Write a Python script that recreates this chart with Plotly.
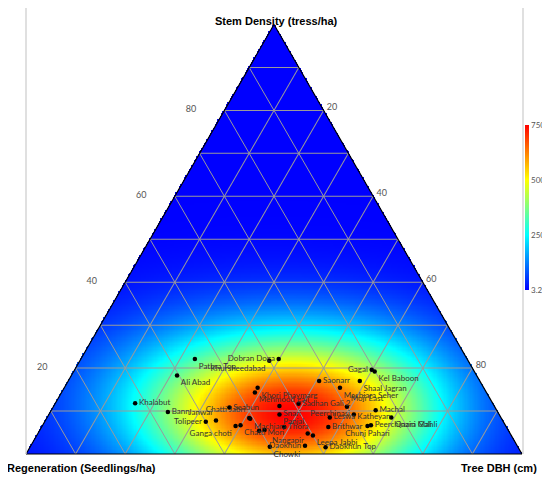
import numpy as np
import plotly.graph_objects as go

# sites and their ternary composition (percent)
sites = ['Pathra Top', 'Dobran Doga', 'Khursheedabad', 'Ali Abad', 'Khalabut', 'Bann',
         'Tolipeer', 'Janwai', 'Chatti Jabri', 'Seabun', 'Machiara Thora', 'Ganga choti',
         'Chatti Mori', '', '', '', 'Khori Phaymarg', 'Mehmood gali', 'Sadhan Gali 2',
         'Snari', 'Panjal', 'Peerchinasi', 'Leswa Katheyan', 'Moji East', 'Saonarr',
         'Shaal Jagran', 'Machiara Seher', 'Gagal', 'Kel Baboon', 'Machal', 'Qaziri Mahli',
         'Peerchinara Gali', 'Chunj Pahari', 'Brithwar', 'Nangapir', 'Leepa Jabbi',
         'Daokhun', 'Chowki', 'Daokhun Top']
stem_density = [22.1, 22.1, 21.7, 18.3, 11.8, 9.8, 7.5, 7.8, 8.4, 10.8, 8.2, 6.5,
                6.7, 5.4, 5.6, 6.3, 15.4, 14.3, 11.7, 11.2, 9.2, 9.2, 8.5, 11.0, 17.0,
                17.0, 15.4, 19.6, 19.2, 10.2, 8.5, 6.7, 6.5, 6.3, 4.8, 4.3, 1.9, 1.7, 1.6]
regeneration = [54.9, 38.0, 40.1, 60.4, 72.1, 66.5, 60.0, 57.8, 50.8, 53.6, 50.7, 54.5,
                53.4, 50.3, 49.1, 44.8, 45.6, 46.7, 39.2, 43.3, 44.3, 29.3, 34.5, 29.8, 32.4,
                24.2, 29.0, 20.5, 20.1, 24.4, 22.1, 27.1, 27.9, 35.9, 40.8, 40.0, 42.8, 50.0, 38.8]
tree_dbh = [23.0, 39.9, 38.2, 21.3, 16.1, 23.7, 32.5, 34.4, 40.8, 35.6, 41.1, 39.0,
            39.9, 44.3, 45.3, 48.9, 39.0, 39.0, 49.1, 45.5, 46.5, 61.5, 57.0, 59.2, 50.6,
            58.8, 55.6, 59.9, 60.7, 65.4, 69.4, 66.2, 65.6, 57.8, 54.4, 55.7, 55.3, 48.3, 59.6]
label_pos = ['bottom right', 'middle left', 'bottom left', 'bottom right', 'middle right',
             'middle right', 'middle left', 'top left', 'top left', 'middle right',
             'bottom right', 'bottom left', 'bottom right', 'middle right', 'middle right',
             'middle right', 'bottom right', 'bottom right', 'middle right', 'bottom right',
             'bottom right', 'middle left', 'middle right', 'top right', 'middle right',
             'bottom right', 'bottom right', 'middle left', 'bottom right', 'middle right',
             'bottom right', 'middle right', 'bottom center', 'middle right', 'bottom left',
             'bottom right', 'middle left', 'bottom right', 'middle right']

cbar_ticks = [3.25, 250, 500, 750]
z_min, z_max = 3.25, 750

# density surface built from the site positions (kernel smoothing)
a = np.array(stem_density)
c = np.array(tree_dbh)
px_ = c + a / 2
py_ = a * np.sqrt(3) / 2
gx = np.linspace(0, 100, 401)
gy = np.linspace(0, 50 * np.sqrt(3), 348)
X, Y = np.meshgrid(gx, gy)
Z = np.zeros_like(X)
for xi, yi in zip(px_, py_):
    Z += np.exp(-((X - xi) ** 2 / (2 * 14.5 ** 2) + (Y - yi) ** 2 / (2 * 9.0 ** 2)))
Z = (Z / Z.max()) ** 0.88
Z = z_min + (z_max - z_min) * Z
inside = (Y <= np.sqrt(3) * X + 0.3) & (Y <= np.sqrt(3) * (100 - X) + 0.3)
Z[~inside] = np.nan

# the page puts the plot 8px in from the window corner
W, H = 542, 471
OFF = 8


def px(sx):
    return (sx - OFF) / W


def py(sy):
    return 1 - (sy - OFF) / H


x_dom = [px(26), px(522)]
y_dom = [py(454), py(454) + 429.5 / H]

fig = go.Figure()

fig.add_trace(go.Heatmap(
    x=gx, y=gy, z=Z,
    zmin=z_min, zmax=z_max,
    colorscale=[[0, '#0000ff'], [0.333, '#00ffff'], [0.667, '#ffff00'], [1, '#ff0000']],
    hoverinfo='skip',
    colorbar=dict(
        x=px(525), xanchor='left', xpad=0,
        y=py(207.5), yanchor='middle', ypad=0,
        len=165 / H, thickness=4,
        outlinewidth=0,
        tickvals=cbar_ticks, ticktext=['3.25', '250', '500', '750'],
        ticks='', tickfont=dict(size=8, color='#555555', family='Lato')
    )
))

fig.add_trace(go.Scatterternary(
    a=stem_density, b=regeneration, c=tree_dbh,
    mode='markers+text',
    text=sites,
    textposition=label_pos,
    textfont=dict(size=8, color='#333333', family='Lato'),
    marker=dict(color='black', size=4.5),
    cliponaxis=False,
    showlegend=False
))

tick_vals = [10, 20, 30, 40, 50, 60, 70, 80, 90]
tick_text = ['', '20', '', '40', '', '60', '', '80', '']
axis_common = dict(
    tickvals=tick_vals, ticktext=tick_text,
    showgrid=True, gridcolor='#9a9a9a', gridwidth=1,
    linecolor='black', linewidth=1.2,
    tickfont=dict(size=9, color='#555555', family='Lato'),
    title=dict(text='')
)

fig.update_layout(
    width=W, height=H,
    margin=dict(l=0, r=0, t=0, b=0, autoexpand=False),
    paper_bgcolor='white',
    plot_bgcolor='rgba(0,0,0,0)',
    xaxis=dict(domain=x_dom, range=[0, 100], visible=False),
    yaxis=dict(domain=y_dom, range=[0, 50 * np.sqrt(3)], visible=False),
    ternary=dict(
        domain=dict(x=x_dom, y=y_dom),
        sum=100,
        bgcolor='rgba(0,0,0,0)',
        aaxis=dict(axis_common, ticks='outside', ticklen=26, tickcolor='rgba(0,0,0,0)'),
        baxis=dict(axis_common, showticklabels=False),
        caxis=dict(axis_common, ticks='outside', ticklen=2, tickcolor='rgba(0,0,0,0)'),
    ),
    annotations=[
        dict(text='<b>Stem Density (tress/ha)</b>', x=px(276), y=py(21),
             xref='paper', yref='paper', showarrow=False, xanchor='center', yanchor='middle',
             font=dict(size=11, color='black', family='Liberation Sans')),
        dict(text='<b>Regeneration (Seedlings/ha)</b>', x=px(5), y=py(468),
             xref='paper', yref='paper', showarrow=False, xanchor='left', yanchor='middle',
             font=dict(size=11, color='black', family='Liberation Sans')),
        dict(text='<b>Tree DBH (cm)</b>', x=px(539), y=py(468),
             xref='paper', yref='paper', showarrow=False, xanchor='right', yanchor='middle',
             font=dict(size=11, color='black', family='Liberation Sans')),
    ],
    shapes=[
        dict(type='line', xref='paper', yref='paper', x0=px(26), x1=px(26),
             y0=py(454), y1=py(8), line=dict(color='#d6d6d6', width=1.5)),
        dict(type='line', xref='paper', yref='paper', x0=px(523), x1=px(523),
             y0=py(454), y1=py(8), line=dict(color='#d6d6d6', width=1.5)),
    ]
)

fig.write_html('out.html')
